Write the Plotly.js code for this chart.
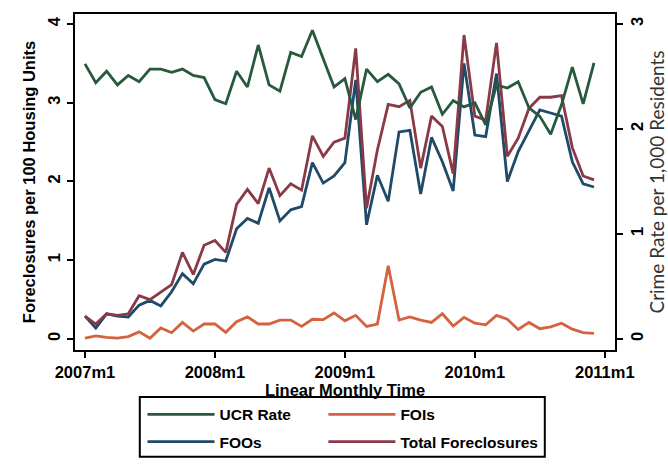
<!DOCTYPE html>
<html>
<head>
<meta charset="utf-8">
<script src="https://cdn.plot.ly/plotly-3.0.1.min.js"></script>
<style>html,body{margin:0;padding:0;background:#fff;} #chart{width:668px;height:467px;}</style>
</head>
<body>
<div id="chart"></div>
<script>
// Monthly observations, 2007m1 .. 2010m12
const ucrRate = [2.62,2.44,2.55,2.42,2.51,2.45,2.57,2.57,2.54,2.57,2.51,2.49,
                 2.28,2.24,2.55,2.40,2.80,2.42,2.36,2.73,2.69,2.94,2.67,2.40,
                 2.48,2.09,2.57,2.45,2.52,2.43,2.20,2.35,2.40,2.14,2.27,2.21,
                 2.25,2.04,2.42,2.39,2.45,2.20,2.12,1.95,2.23,2.59,2.24,2.63];
const foos = [0.29,0.14,0.32,0.29,0.28,0.43,0.49,0.42,0.60,0.83,0.70,0.95,
              1.01,0.99,1.40,1.53,1.47,1.92,1.50,1.64,1.68,2.24,1.98,2.07,
              2.24,3.29,1.45,2.08,1.75,2.63,2.65,1.84,2.56,2.25,1.88,3.50,
              2.59,2.57,3.37,2.00,2.38,2.65,2.91,2.87,2.83,2.25,1.97,1.93];
const fois = [0.01,0.04,0.02,0.01,0.03,0.09,0.01,0.14,0.08,0.21,0.10,0.19,
              0.19,0.085,0.22,0.28,0.19,0.19,0.24,0.24,0.16,0.25,0.245,0.33,
              0.23,0.30,0.16,0.19,0.93,0.24,0.28,0.24,0.21,0.32,0.165,0.275,
              0.20,0.18,0.30,0.25,0.12,0.21,0.13,0.155,0.20,0.125,0.08,0.07];
const totalForeclosures = [0.29,0.19,0.32,0.30,0.32,0.55,0.50,0.59,0.69,1.10,0.82,1.19,
              1.25,1.10,1.71,1.90,1.72,2.17,1.82,1.97,1.89,2.58,2.32,2.50,
              2.55,3.69,1.66,2.40,2.98,2.95,3.03,2.17,2.83,2.70,2.10,3.86,
              2.83,2.78,3.76,2.32,2.55,2.93,3.07,3.07,3.09,2.43,2.07,2.02];
const xTickVals = [0,12,24,36,48];
const xTickLabels = ['2007m1','2008m1','2009m1','2010m1','2011m1'];
const leftTicks = [0,1,2,3,4];
const rightTicks = [0,1,2,3];
const seriesNames = ['UCR Rate','FOIs','FOOs','Total Foreclosures'];

const monthIndex = ucrRate.map((_, i) => i);
const col = {ucr:'#27593d', foi:'#d5623f', foo:'#1f4a6a', tot:'#8a3a47'};
const LW = 2.8;
const F = 'Liberation Sans, Arial, sans-serif';
const tf = {family: F, size: 16.5, color: '#000', weight: 'bold'};

const traces = [
  {x: monthIndex, y: ucrRate, name: seriesNames[0], yaxis: 'y2', type: 'scatter', mode: 'lines',
   line: {color: col.ucr, width: LW}, legend: 'legend'},
  {x: monthIndex, y: fois, name: seriesNames[1], type: 'scatter', mode: 'lines',
   line: {color: col.foi, width: LW}, legend: 'legend2'},
  {x: monthIndex, y: foos, name: seriesNames[2], type: 'scatter', mode: 'lines',
   line: {color: col.foo, width: LW}, legend: 'legend3'},
  {x: monthIndex, y: totalForeclosures, name: seriesNames[3], type: 'scatter', mode: 'lines',
   line: {color: col.tot, width: LW}, legend: 'legend4'}
];

const legBase = {bgcolor: 'rgba(0,0,0,0)', borderwidth: 0, font: {family: F, size: 15.5, color: '#000', weight: 'bold'},
  xanchor: 'left', yanchor: 'middle', itemwidth: 67, tracegroupgap: 0};

const layout = {
  width: 668, height: 467,
  margin: {l: 75, r: 53, t: 14, b: 117, autoexpand: false},
  paper_bgcolor: '#fff', plot_bgcolor: '#fff',
  font: {family: F, size: 16.5, color: '#000'},
  xaxis: {range: [-0.92, 48.94], tickvals: xTickVals, ticktext: xTickLabels,
    showgrid: false, zeroline: false, showline: true, linecolor: '#000', linewidth: 2, mirror: true,
    ticks: 'outside', ticklen: 6, tickwidth: 2, tickcolor: '#000',
    tickfont: tf,
    title: {text: 'Linear Monthly Time', font: tf, standoff: 0}},
  yaxis: {range: [-0.14, 4.127], tickvals: leftTicks, tickangle: -90,
    showgrid: false, zeroline: false, showline: true, linecolor: '#000', linewidth: 2,
    ticks: 'outside', ticklen: 6, tickwidth: 2, tickcolor: '#000',
    tickfont: tf,
    title: {text: 'Foreclosures per 100 Housing Units', font: tf, standoff: 6}},
  yaxis2: {range: [-0.105, 3.095], tickvals: rightTicks, tickangle: -90, overlaying: 'y', side: 'right',
    showgrid: false, zeroline: false, showline: true, linecolor: '#000', linewidth: 2,
    ticks: 'outside', ticklen: 6, tickwidth: 2, tickcolor: '#000',
    tickfont: tf,
    title: {text: 'Crime Rate per 1,000 Residents', font: {family: 'Lato, Open Sans, sans-serif', size: 19, color: '#333'}, standoff: 6}},
  legend:  Object.assign({}, legBase, {x: 0.125, y: -0.193}),
  legend2: Object.assign({}, legBase, {x: 0.46, y: -0.193}),
  legend3: Object.assign({}, legBase, {x: 0.125, y: -0.274}),
  legend4: Object.assign({}, legBase, {x: 0.46, y: -0.274}),
  shapes: [{type: 'rect', xref: 'paper', yref: 'paper', x0: 0.12, x1: 0.87, y0: -0.318, y1: -0.14,
    line: {color: '#000', width: 2}, fillcolor: 'rgba(0,0,0,0)'}],
  showlegend: true
};

Plotly.newPlot('chart', traces, layout, {displayModeBar: false, staticPlot: true});
</script>
</body>
</html>
